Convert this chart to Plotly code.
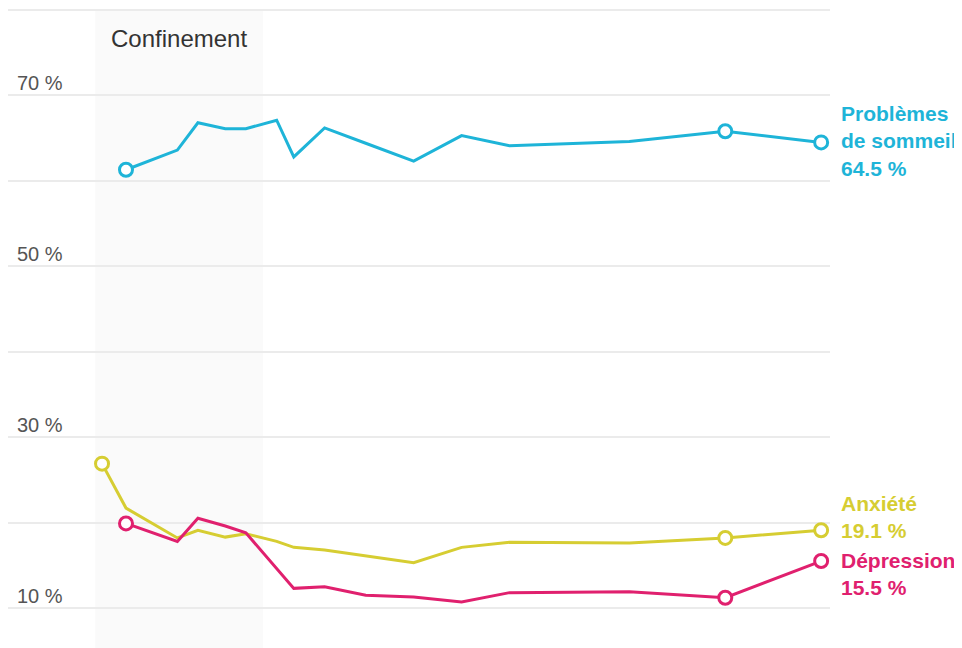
import plotly.graph_objects as go

dates = ["2020-03-24", "2020-03-31", "2020-04-15", "2020-04-21", "2020-04-29",
         "2020-05-05", "2020-05-14", "2020-05-19", "2020-05-28", "2020-06-09",
         "2020-06-23", "2020-07-07", "2020-07-21", "2020-08-25", "2020-09-22",
         "2020-10-20"]
sommeil = [None, 61.3, 63.6, 66.8, 66.1, 66.1, 67.1, 62.8, 66.2, 64.4,
           62.3, 65.3, 64.1, 64.6, 65.8, 64.5]
anxiete = [26.9, 21.7, 18.2, 19.1, 18.3, 18.7, 17.8, 17.1, 16.8, 16.1,
           15.3, 17.1, 17.7, 17.6, 18.2, 19.1]
depression = [None, 19.9, 17.8, 20.5, 19.6, 18.8, 14.7, 12.3, 12.5, 11.5,
              11.3, 10.7, 11.8, 11.9, 11.2, 15.5]

series_names = ["Problèmes<br>de sommeil", "Anxiété", "Dépression"]
colors = ["#1EB4D8", "#D6CD32", "#E0206E"]

grid_vals = [10, 20, 30, 40, 50, 60, 70, 80]
label_vals = [10, 30, 50, 70]
lock_start, lock_end = "2020-03-22", "2020-05-10"
x_range = ["2020-02-25 13:00", "2020-10-22 14:00"]
y_range = [5.32, 80.23]

fig = go.Figure()
all_series = [sommeil, anxiete, depression]
for vals, col in zip(all_series, colors):
    fig.add_trace(go.Scatter(x=dates, y=vals, mode="lines",
                             line=dict(color=col, width=3), hoverinfo="skip",
                             showlegend=False))
    first = next(i for i, v in enumerate(vals) if v is not None)
    idx = [first, len(vals) - 2, len(vals) - 1]
    fig.add_trace(go.Scatter(x=[dates[i] for i in idx], y=[vals[i] for i in idx],
                             mode="markers",
                             marker=dict(size=13, color="white",
                                         line=dict(color=col, width=3)),
                             hoverinfo="skip", showlegend=False))

fig.add_shape(type="rect", xref="x", yref="y", x0=lock_start, x1=lock_end,
              y0=y_range[0], y1=80, fillcolor="#FAFAFA", line_width=0,
              layer="below")

FONT = "Liberation Sans, Arial, sans-serif"
for v in label_vals:
    fig.add_annotation(xref="paper", x=0, y=v, yref="y", text=f"{v} %",
                       showarrow=False, xanchor="left", yanchor="bottom",
                       xshift=7, yshift=-1,
                       font=dict(family=FONT, size=20, color="#555555"))

fig.add_annotation(xref="x", x=lock_start, yref="paper", y=1 - 30 / 640,
                   text="Confinement", showarrow=False, xanchor="left",
                   yanchor="middle", xshift=14,
                   font=dict(family=FONT, size=24, color="#333333"))

shifts = [1, 13, -13]
for name, vals, col, ys in zip(series_names, all_series, colors, shifts):
    fig.add_annotation(x=dates[-1], y=vals[-1], xref="x", yref="y",
                       text=f"<b>{name}<br>{vals[-1]} %</b>", showarrow=False,
                       xanchor="left", yanchor="middle", align="left",
                       xshift=18, yshift=ys,
                       font=dict(family=FONT, size=21, color=col))

fig.update_layout(
    width=954, height=640,
    margin=dict(l=0, r=132, t=0, b=0, pad=0),
    paper_bgcolor="white", plot_bgcolor="white",
    xaxis=dict(type="date", range=x_range, showgrid=False, zeroline=False,
               showline=False, showticklabels=False, ticks=""),
    yaxis=dict(range=y_range, tickvals=grid_vals, showticklabels=False,
               gridcolor="#EBEBEB", gridwidth=1.5, zeroline=False,
               showline=False, ticks=""),
)

fig.write_html("out.html")
